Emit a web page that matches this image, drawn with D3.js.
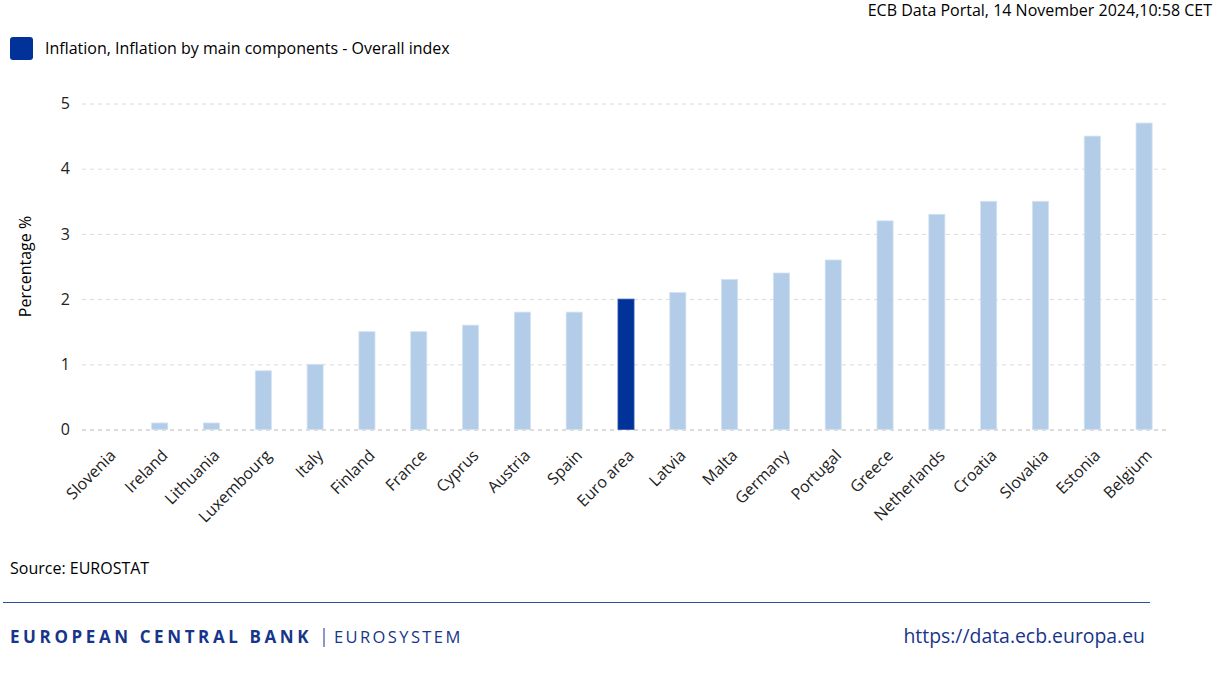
<!DOCTYPE html>
<html><head><meta charset="utf-8">
<script src="https://cdn.jsdelivr.net/npm/d3@7"></script>
<style>
html,body{margin:0;padding:0;background:#fff;}
svg{display:block;font-family:"Open Sans","Noto Sans",sans-serif;}
</style></head>
<body>
<svg id="chart" width="1220" height="689"></svg>
<script>
const categories = ["Slovenia","Ireland","Lithuania","Luxembourg","Italy","Finland","France","Cyprus","Austria","Spain","Euro area","Latvia","Malta","Germany","Portugal","Greece","Netherlands","Croatia","Slovakia","Estonia","Belgium"];
const values = [0.0,0.1,0.1,0.9,1.0,1.5,1.5,1.6,1.8,1.8,2.0,2.1,2.3,2.4,2.6,3.2,3.3,3.5,3.5,4.5,4.7];
const highlight = ["Euro area"];
const yTicks = [0,1,2,3,4,5];
const seriesName = "Inflation, Inflation by main components - Overall index";
const stamp = "ECB Data Portal, 14 November 2024,10:58 CET";
const yTitle = "Percentage %";
const source = "Source: EUROSTAT";

const svg = d3.select("#chart");
const pL = 82, pR = 1170, pT = 103.5, pB = 429.5;

const x = d3.scaleBand().domain(categories).range([pL, pR]).paddingInner(0.69).paddingOuter(0.345);
const y = d3.scaleLinear().domain([0,5]).range([pB, pT]);

// header
svg.append("text").attr("x",1212).attr("y",16).attr("text-anchor","end")
  .attr("font-size",16).attr("fill","#000").text(stamp);
svg.append("rect").attr("x",10).attr("y",37).attr("width",23).attr("height",23).attr("rx",3).attr("fill","#003299");
svg.append("text").attr("x",45).attr("y",54).attr("font-size",16).attr("fill","#000").text(seriesName);

// grid
const grid = svg.append("g");
grid.selectAll("line").data(yTicks).join("line")
  .attr("x1",pL).attr("x2",pR)
  .attr("y1",d=>y(d)+0.5).attr("y2",d=>y(d)+0.5)
  .attr("stroke",d=>d===0?"#b8b8b8":"#dcdcdc")
  .attr("stroke-dasharray","4,4");

// y axis labels
const yAxis = d3.axisLeft(y).tickValues(yTicks).tickSize(0).tickPadding(0).tickFormat(d3.format("d"));
const ga = svg.append("g").attr("transform",`translate(${pL-12},0)`).call(yAxis);
ga.select(".domain").remove();
ga.selectAll("text").attr("font-size",16).attr("fill","#222").attr("font-family","'Open Sans','Noto Sans',sans-serif");

svg.append("text").attr("transform",`translate(31,${(pT+pB)/2}) rotate(-90)`)
  .attr("text-anchor","middle").attr("font-size",16).attr("fill","#000").text(yTitle);

// bars
svg.append("g").selectAll("rect").data(categories).join("rect")
  .attr("x",d=>x(d)).attr("width",x.bandwidth())
  .attr("y",(d,i)=>y(values[i])).attr("height",(d,i)=>y(0)-y(values[i]))
  .attr("fill",d=>highlight.includes(d)?"#003299":"#b3cde8")
  .attr("stroke",d=>highlight.includes(d)?"#3358b0":"#d2e1f2").attr("stroke-width",0.8);

// x labels
const xAxis = d3.axisBottom(x).tickSize(0).tickPadding(0);
const gx = svg.append("g").attr("transform",`translate(0,${pB})`).call(xAxis);
gx.select(".domain").remove();
gx.selectAll("text").attr("font-size",16).attr("fill","#222")
  .attr("font-family","'Open Sans','Noto Sans',sans-serif")
  .attr("text-anchor","end").attr("dy",0)
  .attr("transform","translate(9,27) rotate(-45)");

// source & footer
svg.append("text").attr("x",10).attr("y",574).attr("font-size",16).attr("fill","#000").text(source);
svg.append("line").attr("x1",3).attr("x2",1150).attr("y1",602.5).attr("y2",602.5).attr("stroke","#2a4d9c").attr("stroke-width",1.2);
svg.append("text").attr("x",10).attr("y",643).attr("font-size",17).attr("font-weight","bold")
  .attr("letter-spacing",3.6).attr("fill","#17358a").text("EUROPEAN CENTRAL BANK");
svg.append("line").attr("x1",324).attr("x2",324).attr("y1",628).attr("y2",647).attr("stroke","#17358a").attr("stroke-width",1);
svg.append("text").attr("x",334).attr("y",643).attr("font-size",16.5)
  .attr("letter-spacing",2.4).attr("fill","#17358a").text("EUROSYSTEM");
svg.append("text").attr("x",1145).attr("y",643).attr("text-anchor","end").attr("font-size",19.4)
  .attr("fill","#17358a").text("https://data.ecb.europa.eu");
</script>
</body></html>
